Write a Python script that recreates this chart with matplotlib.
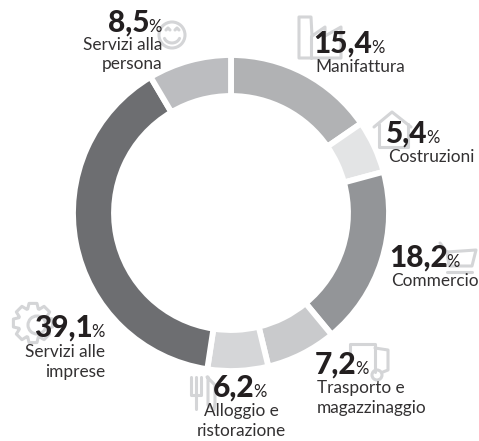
import numpy as np
import matplotlib
matplotlib.use('Agg')
import matplotlib.pyplot as plt
from matplotlib.patches import Circle, Polygon

# dati
categories = ['Manifattura', 'Costruzioni', 'Commercio', 'Trasporto e\nmagazzinaggio',
              'Alloggio e\nristorazione', 'Servizi alle\nimprese', 'Servizi alla\npersona']
values = [15.4, 5.4, 18.2, 7.2, 6.2, 39.1, 8.5]
colors = ['#b1b2b4', '#e3e4e5', '#939598', '#c9cacc', '#d5d6d8', '#6d6e71', '#bcbdc0']

W, H = 479, 441
DARK = '#231f20'
ICON = '#d4d5d7'

plt.rcParams['font.family'] = ['Lato', 'DejaVu Sans']

fig = plt.figure(figsize=(W / 100, H / 100), dpi=100)
ax = fig.add_axes([0, 0, 1, 1])

# anello: il bordo bianco mangia circa 3 px per lato
ax.pie(values, colors=colors, startangle=90, counterclock=False, radius=158, center=(231, H - 213),
       frame=True, wedgeprops=dict(width=41, edgecolor='white', linewidth=4.2))
ax.set_xlim(0, W)
ax.set_ylim(0, H)
ax.set_aspect('equal')
ax.axis('off')


# le icone usano coordinate in pixel dall'alto
def icon_line(points, closed=False):
    xy = [(x, H - y) for x, y in points]
    ax.add_patch(Polygon(xy, closed=closed, fill=False, edgecolor=ICON, linewidth=2.2,
                         joinstyle='round', capstyle='round', zorder=2))


def icon_circle(x, y, r):
    ax.add_patch(Circle((x, H - y), r, fill=False, edgecolor=ICON, linewidth=2.2, zorder=2))


# fabbrica
icon_line([(299, 17), (311, 17), (312, 36), (325, 27), (325, 36), (341, 27), (341, 58), (299, 58)], True)
icon_line([(311, 36), (311, 58)])
# casa
icon_line([(374, 127), (392, 112), (411, 127)])
icon_line([(379, 124), (379, 147), (408, 147), (408, 124)])
# carrello
icon_line([(440, 243), (447, 252), (476, 250), (472, 266), (449, 266), (447, 252)])
icon_line([(447, 272), (472, 272)])
# camion
icon_line([(350, 355), (350, 344), (375, 344), (375, 372)])
icon_line([(375, 348), (388, 350), (388, 370), (383, 372)])
icon_circle(377, 375, 5)
# posate
icon_line([(191, 377), (191, 395), (201, 395), (201, 377)])
icon_line([(196, 377), (196, 395)])
icon_line([(196, 395), (196, 409)])
icon_line([(207, 377), (215, 385), (215, 403), (214, 410), (208, 405), (208, 377)])
# ingranaggio
angles = np.linspace(0, 2 * np.pi, 8, endpoint=False)
gear = []
for a in angles:
    for da, r in [(-0.36, 15), (-0.2, 20), (0.2, 20), (0.36, 15)]:
        gear.append((33 + r * np.cos(a + da), 323 + r * np.sin(a + da)))
icon_line(gear, True)
icon_circle(37, 325, 9)
# faccina
icon_circle(172, 35, 13)
t = np.linspace(0.35, np.pi - 0.35, 12)
icon_line(list(zip(172 + 8 * np.cos(t), 36 + 7 * np.sin(t))))
icon_line([(166, 30), (168, 28), (170, 30)])
icon_line([(175, 30), (177, 28), (179, 30)])


def value_label(x, y, value, align='left'):
    txt = f'{value:.1f}'.replace('.', ',')
    rend = fig.canvas.get_renderer()
    if align == 'left':
        t1 = ax.text(x - 2, H - y, txt, fontsize=21.5, fontweight='black', color=DARK, ha='left', va='baseline', zorder=3)
        x1 = t1.get_window_extent(rend).x1
        ax.text(x1 - 1, H - y, '%', fontsize=12, color=DARK, ha='left', va='baseline', zorder=3)
    else:
        t2 = ax.text(x, H - y, '%', fontsize=12, color=DARK, ha='right', va='baseline', zorder=3)
        x0 = t2.get_window_extent(rend).x0
        ax.text(x0 + 1, H - y, txt, fontsize=21.5, fontweight='black', color=DARK, ha='right', va='baseline', zorder=3)


def name_label(x, y, text, align='left'):
    for i, line in enumerate(text.split('\n')):
        ax.text(x, H - (y + i * 19.5), line, fontsize=12.4, color='#333132', ha=align, va='baseline', zorder=3)


# posizioni delle etichette: x, y valore, y nome, allineamento
label_pos = [
    (315, 53, 72, 'left'),
    (388, 143, 162, 'left'),
    (391, 267, 286, 'left'),
    (317, 374, 393, 'left'),
    (215, 397, 416, 'left'),
    (105, 337, 357, 'right'),
    (162, 32, 50, 'right'),
]

for cat, val, (x, y1, y2, al) in zip(categories, values, label_pos):
    value_label(x, y1, val, al)
    if cat.startswith('Alloggio'):
        name_label(241, y2, cat, 'center')
    else:
        name_label(x, y2, cat, al)

fig.savefig('out.png', dpi=100)
